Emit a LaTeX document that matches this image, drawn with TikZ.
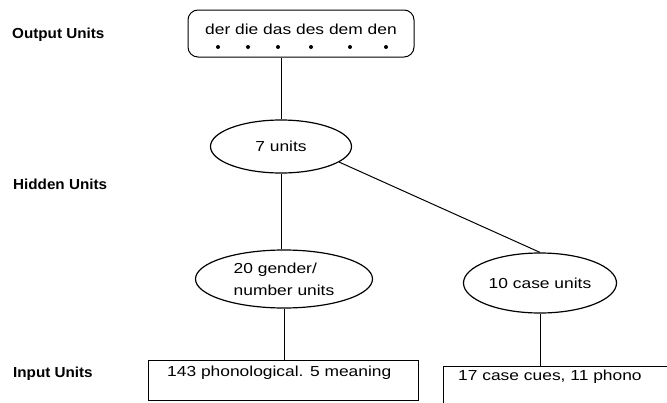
\documentclass[tikz,border=0pt]{standalone}
\usepackage{fontspec}
\setmainfont{Liberation Sans}[FakeStretch=1.2]
\newfontfamily\layerfont{Liberation Sans}[FakeStretch=1.05]
\usetikzlibrary{shapes.geometric}

\tikzset{
  unittext/.style={font=\fontsize{14.5}{22}\selectfont, inner sep=0pt},
  layerlabel/.style={font=\layerfont\bfseries\fontsize{14.5}{18}\selectfont, anchor=west, inner sep=0pt},
  outbox/.style={draw, line width=1pt, rounded corners=10pt, inner sep=0pt},
  inbox/.style={draw, line width=1pt, inner sep=0pt, anchor=north west},
  pool/.style={draw, ellipse, line width=1.2pt, inner sep=0pt, unittext},
  unitdot/.style={circle, fill, inner sep=0pt, minimum size=4pt},
  link/.style={line width=1pt}
}

\begin{document}
\begin{tikzpicture}[x=1pt, y=-1pt]
  \useasboundingbox (0,0) rectangle (667,402);
  \clip (0,0) rectangle (667,402);

  % layer labels
  \node[layerlabel] (lblout) at (12,35) {Output Units};
  \node[layerlabel] (lblhid) at (13,184) {Hidden Units};
  \node[layerlabel] (lblin)  at (13,374) {Input Units};

  % output layer: six article units
  \node[outbox, minimum width=226pt, minimum height=47pt] (out) at (301,33.5) {};
  \node[unittext] (words) at (301,29) {der die das des dem den};
  \node[unitdot] (d1) at (218,47) {};
  \node[unitdot] (d2) at (248,47) {};
  \node[unitdot] (d3) at (278,47) {};
  \node[unitdot] (d4) at (311,47) {};
  \node[unitdot] (d5) at (350,47) {};
  \node[unitdot] (d6) at (386,47) {};

  % hidden layers
  \node[pool, minimum width=141pt, minimum height=53pt] (u7) at (281,146.5) {7 units};
  \node[pool, minimum width=177pt, minimum height=58pt, align=left] (gn) at (284,279) {20 gender/\\number units};
  \node[pool, minimum width=153pt, minimum height=60pt] (cs) at (540,283) {10 case units};

  % input layers (the case-cue box runs off the right and bottom edges)
  \node[inbox, minimum width=270pt, minimum height=40pt] (in1) at (148,360) {};
  \node[unittext, anchor=west] (in1txt) at (167,373) {143 phonological. 5 meaning};
  \node[inbox, minimum width=250pt, minimum height=50pt] (in2) at (443,366) {};
  \node[unittext, anchor=west] (in2txt) at (458,377) {17 case cues, 11 phono};

  % connections
  \draw[link] (u7.north) -- (u7.north |- out.south);
  \draw[link] (u7.south) -- (u7.south |- gn.north);
  \draw[link] (u7.-15) -- (cs.north);
  \draw[link] (gn.south) -- (gn.south |- in1.north);
  \draw[link] (cs.south) -- (cs.south |- in2.north);
\end{tikzpicture}
\end{document}
